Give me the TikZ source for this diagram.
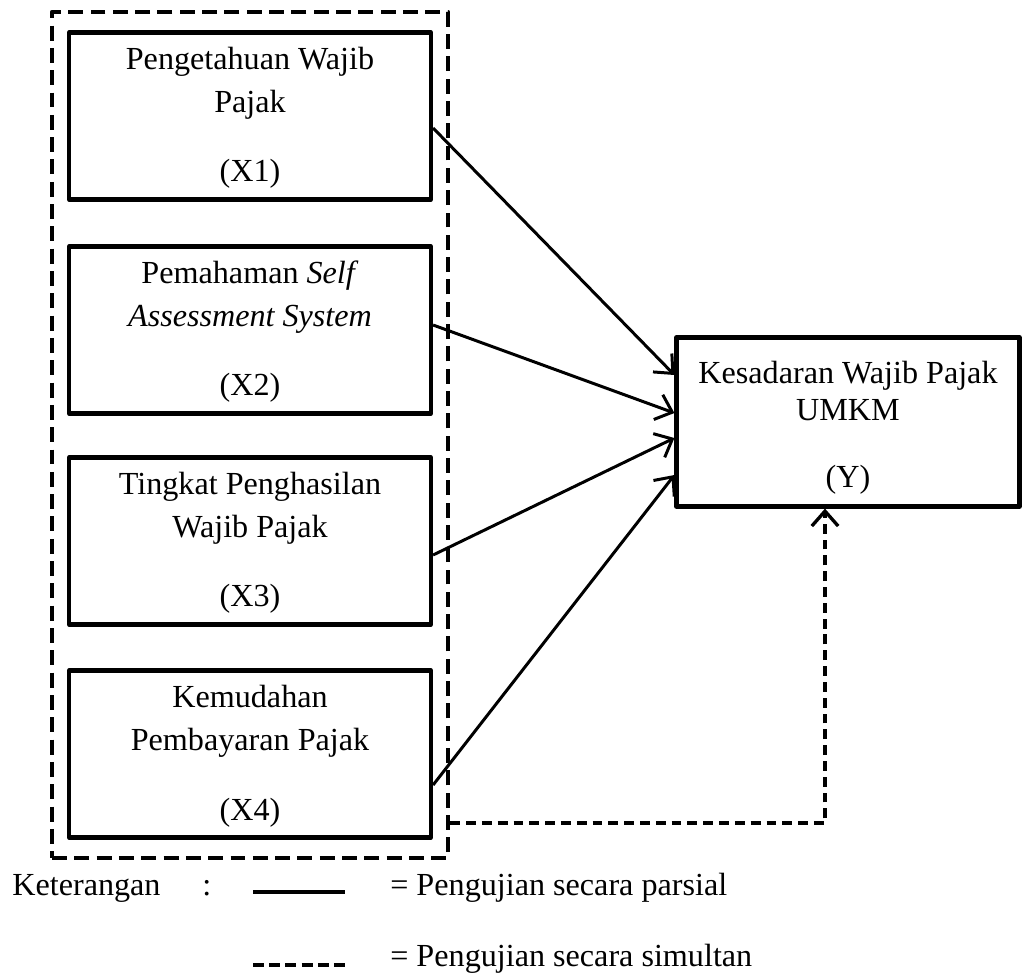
\documentclass[tikz,border=0pt]{standalone}
\usepackage{fontspec}
\setmainfont{Liberation Serif}
\usetikzlibrary{arrows.meta,calc}
\tikzset{
  txt/.style={font=\fontsize{18.3}{24.4}\selectfont},
  varbox/.style={txt, draw, line width=2.4pt, line join=round, minimum width=7.24cm, minimum height=3.34cm, align=center, text height=2.72cm, text depth=0.08cm},
  groupbox/.style={draw, line width=2.6pt, line join=round, dash pattern=on 8.5pt off 4.2pt, minimum width=7.92cm, minimum height=16.92cm},
  partial/.style={line width=1.7pt, -{Straight Barb[length=8.5pt,width=15pt]}},
  simult/.style={line width=1.9pt, dash pattern=on 5.6pt off 3.4pt, -{Straight Barb[length=8.5pt,width=15pt]}},
}
\begin{document}
\begin{tikzpicture}[x=0.02cm,y=-0.02cm]
\useasboundingbox (0,0) rectangle (1028,978);
% variabel bebas
\node[groupbox] (grp) at (250,435) {};
\node[varbox] (x1) at (250,116) {Pengetahuan Wajib\\Pajak\\[15.3pt](X1)};
\node[varbox] (x2) at (250,330) {Pemahaman \textit{Self}\\\textit{Assessment System}\\[15.3pt](X2)};
\node[varbox] (x3) at (250,541) {Tingkat Penghasilan\\Wajib Pajak\\[15.3pt](X3)};
\node[varbox] (x4) at (250,754) {Kemudahan\\Pembayaran Pajak\\[15.3pt](X4)};
% variabel terikat
\node[varbox, font=\fontsize{18.3}{21}\selectfont, minimum width=6.86cm, minimum height=3.38cm] (ky) at (848,422) {Kesadaran Wajib Pajak\\UMKM\\[17.5pt](Y)};
% pengujian
\draw[partial] ($(x1.east)+(0,12)$) -- ($(ky.west)+(0,-47)$);
\draw[partial] ($(x2.east)+(0,-5)$) -- ($(ky.west)+(0,-9)$);
\draw[partial] ($(x3.east)+(0,14)$) -- ($(ky.west)+(0,16)$);
\draw[partial] ($(x4.east)+(0,31)$) -- ($(ky.west)+(0,53)$);
\draw[simult] ($(grp.east)+(0,388)$) -| ($(ky.south)+(-23,0)$);
% keterangan
\node[txt, anchor=base west, inner sep=0pt] (ket) at (12,895) {Keterangan};
\node[txt, anchor=base west, inner sep=0pt] (colon) at (202,895) {:};
\coordinate (ls1) at (253,892);
\coordinate (le1) at (345,892);
\coordinate (ls2) at (253,965);
\coordinate (le2) at (345,965);
\draw[line width=2.3pt] (ls1) -- (le1);
\draw[line width=2.6pt, dash pattern=on 6.26pt off 2.96pt] (ls2) -- (le2);
\node[txt, anchor=base west, inner sep=0pt] (par) at (390,895) {= Pengujian secara parsial};
\node[txt, anchor=base west, inner sep=0pt] (sim) at (390,966) {= Pengujian secara simultan};
\end{tikzpicture}
\end{document}
